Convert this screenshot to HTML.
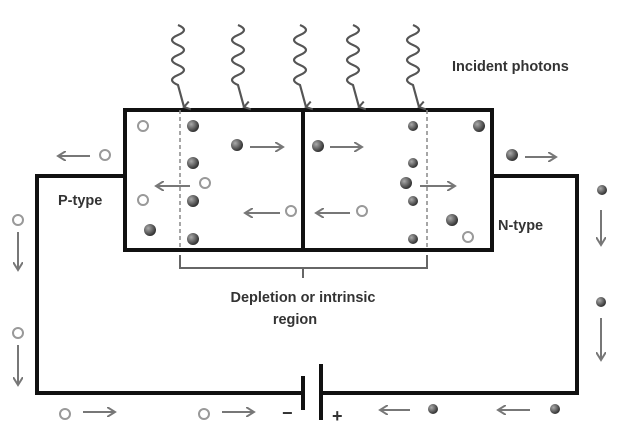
<!DOCTYPE html>
<html><head><meta charset="utf-8"><style>body{margin:0;background:#fff}svg{display:block}text{font-family:"Liberation Sans",sans-serif;fill:#333;font-weight:bold}</style></head><body>
<svg width="629" height="437" viewBox="0 0 629 437">
<defs>
<radialGradient id="d" cx="35%" cy="35%" r="65%"><stop offset="0" stop-color="#aaa"/><stop offset="1" stop-color="#333"/></radialGradient>
<marker id="ah" markerWidth="10" markerHeight="10" refX="8" refY="5" orient="auto" markerUnits="userSpaceOnUse"><path d="M0,0 L8,5 L0,10" fill="none" stroke="#777" stroke-width="2"/></marker>
<marker id="ph" markerWidth="10" markerHeight="10" refX="5" refY="8" orient="auto" markerUnits="userSpaceOnUse"><path d="M1,2 L5,8 L9,2" fill="none" stroke="#555" stroke-width="2"/></marker>
</defs>
<g fill="none" stroke="#111" stroke-width="4">
<rect x="125" y="110" width="367" height="140"/>
<line x1="303" y1="110" x2="303" y2="250"/>
<path d="M125,176 H37 V393 H303 M321,393 H577 V176 H492"/>
</g>
<g stroke="#111" stroke-width="4"><line x1="303" y1="376" x2="303" y2="410"/><line x1="321" y1="364" x2="321" y2="420"/></g>
<g stroke="#888" stroke-width="1.5" stroke-dasharray="4,3"><line x1="180" y1="110" x2="180" y2="250"/><line x1="427" y1="110" x2="427" y2="250"/></g>
<path d="M180,255 V268 H427 V255 M303,268 V278" fill="none" stroke="#666" stroke-width="2"/>
<g fill="none" stroke="#555" stroke-width="2.2" marker-end="url(#ph)">
<path d="M178,25 q12,5 0,10 q-12,5 0,10 q12,5 0,10 q-12,5 0,10 q12,5 0,10 q-12,5 0,10 l6,22"/>
<path d="M238,25 q12,5 0,10 q-12,5 0,10 q12,5 0,10 q-12,5 0,10 q12,5 0,10 q-12,5 0,10 l6,22"/>
<path d="M300,25 q12,5 0,10 q-12,5 0,10 q12,5 0,10 q-12,5 0,10 q12,5 0,10 q-12,5 0,10 l6,22"/>
<path d="M353,25 q12,5 0,10 q-12,5 0,10 q12,5 0,10 q-12,5 0,10 q12,5 0,10 q-12,5 0,10 l6,22"/>
<path d="M413,25 q12,5 0,10 q-12,5 0,10 q12,5 0,10 q-12,5 0,10 q12,5 0,10 q-12,5 0,10 l6,22"/>
</g>
<g fill="none" stroke="#777" stroke-width="2" marker-end="url(#ah)">
<line x1="90" y1="156" x2="58" y2="156"/><line x1="190" y1="186" x2="156" y2="186"/>
<line x1="250" y1="147" x2="283" y2="147"/><line x1="280" y1="213" x2="245" y2="213"/>
<line x1="330" y1="147" x2="362" y2="147"/><line x1="350" y1="213" x2="316" y2="213"/>
<line x1="420" y1="186" x2="455" y2="186"/><line x1="525" y1="157" x2="556" y2="157"/>
<line x1="601" y1="210" x2="601" y2="245"/><line x1="601" y1="318" x2="601" y2="360"/>
<line x1="18" y1="232" x2="18" y2="270"/><line x1="18" y1="345" x2="18" y2="385"/>
<line x1="83" y1="412" x2="115" y2="412"/><line x1="222" y1="412" x2="254" y2="412"/>
<line x1="410" y1="410" x2="380" y2="410"/><line x1="530" y1="410" x2="498" y2="410"/>
</g>
<g fill="url(#d)">
<circle cx="193" cy="126" r="6"/><circle cx="193" cy="163" r="6"/><circle cx="193" cy="201" r="6"/><circle cx="193" cy="239" r="6"/><circle cx="150" cy="230" r="6"/><circle cx="237" cy="145" r="6"/>
<circle cx="318" cy="146" r="6"/><circle cx="413" cy="126" r="5"/><circle cx="413" cy="163" r="5"/><circle cx="406" cy="183" r="6"/><circle cx="413" cy="201" r="5"/><circle cx="413" cy="239" r="5"/><circle cx="479" cy="126" r="6"/><circle cx="452" cy="220" r="6"/>
<circle cx="512" cy="155" r="6"/><circle cx="602" cy="190" r="5"/><circle cx="601" cy="302" r="5"/><circle cx="433" cy="409" r="5"/><circle cx="555" cy="409" r="5"/>
</g>
<g fill="#fff" stroke="#999" stroke-width="2">
<circle cx="143" cy="126" r="5"/><circle cx="105" cy="155" r="5"/><circle cx="205" cy="183" r="5"/><circle cx="143" cy="200" r="5"/><circle cx="291" cy="211" r="5"/><circle cx="362" cy="211" r="5"/><circle cx="468" cy="237" r="5"/>
<circle cx="18" cy="220" r="5"/><circle cx="18" cy="333" r="5"/><circle cx="65" cy="414" r="5"/><circle cx="204" cy="414" r="5"/>
</g>
<text x="452" y="71" font-size="14.5">Incident photons</text>
<text x="58" y="205" font-size="14.5">P-type</text>
<text x="498" y="230" font-size="14.5">N-type</text>
<text x="303" y="302" font-size="14.5" text-anchor="middle">Depletion or intrinsic</text>
<text x="295" y="324" font-size="14.5" text-anchor="middle">region</text>
<text x="282" y="419" font-size="18">−</text>
<text x="332" y="422" font-size="18">+</text>
</svg>
</body></html>
